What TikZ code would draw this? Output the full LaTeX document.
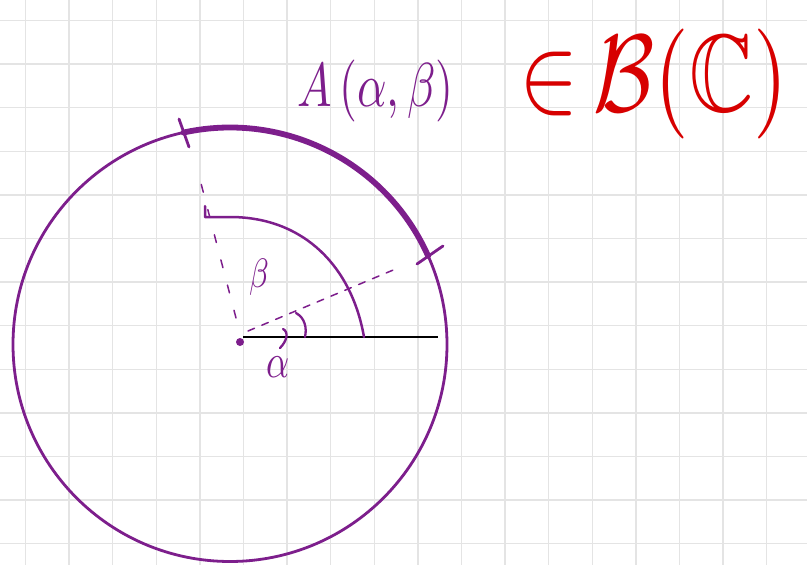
\documentclass[tikz,border=0pt]{standalone}
\usepackage{amssymb}
\definecolor{purp}{RGB}{125,30,140}
\definecolor{inkred}{RGB}{215,0,0}
\definecolor{gridgray}{RGB}{228,228,228}
\begin{document}
\begin{tikzpicture}[x=1pt,y=-1pt,
  gridline/.style={gridgray,line width=1.3pt},
  pen/.style={purp,line width=2.8pt,line cap=round,line join=round},
  thinpen/.style={purp,line width=1.5pt,line cap=round},
  thickarc/.style={purp,line width=5.8pt,line cap=round},
  radiusline/.style={black,line width=2.8pt},
  purplabel/.style={text=purp,inner sep=0pt},
  redlabel/.style={text=inkred,inner sep=0pt}]
\fill[white] (0,0) rectangle (807,565);
\useasboundingbox (0,0) rectangle (807,565);
% grid paper
\foreach \i in {0,...,18} \draw[gridline] ({25.5+43.6*\i},0) -- ({25.5+43.6*\i},565);
\foreach \j in {0,...,12} \draw[gridline] (0,{20.5+43.6*\j}) -- (807,{20.5+43.6*\j});
% circle
\coordinate (O) at (230,344.5);
\draw[pen] (O) circle [radius=217pt];
\coordinate (P1) at ([shift={(102.4:217pt)}]O);
\coordinate (P2) at ([shift={(24.1:217pt)}]O);
\draw[thickarc] (P1) arc[start angle=102.4,end angle=24.1,radius=217pt];
% ticks
\draw[pen] (179,119) -- (189,147);
\draw[pen] (417,264) -- (443,246);
% centre and radii
\coordinate (C) at (240,342);
\coordinate (E) at (438,337);
\fill[purp] (C) circle [radius=4pt];
\draw[radiusline] (243,337) -- (E);
\draw[thinpen,dash pattern=on 7pt off 8pt] (248,331) -- (398,268);
\draw[thinpen,dash pattern=on 8pt off 18pt] (236,318) -- (197,168);
% inner arc with corner
\draw[pen,line width=2.5pt] (205,206) -- (205,217) -- (230,217) .. controls (305,217) and (352,268) .. (364,337);
% small angle marks
\draw[pen,line width=2.3pt] (296,313) .. controls (305,318) and (307,328) .. (305,337);
\draw[pen,line width=2.3pt] (283,329) .. controls (289,332) and (287,341) .. (280,348);
% labels
\node[purplabel,anchor=base west] (lb) at (249,287) {\scalebox{3.2}[4.1]{$\beta$}};
\node[purplabel,anchor=base west] (la) at (266,377) {\scalebox{3.6}[4.8]{$\alpha$}};
\node[purplabel,anchor=base west] (arc) at (297,106) {\scalebox{4.6}[6.2]{$A\,(\alpha,\beta)$}};
\node[redlabel,anchor=base west] (set) at (519,111) {\scalebox{8.9}[11.0]{$\mathord{\in}\,\mathcal{B}(\mathbb{C})$}};
\end{tikzpicture}
\end{document}
